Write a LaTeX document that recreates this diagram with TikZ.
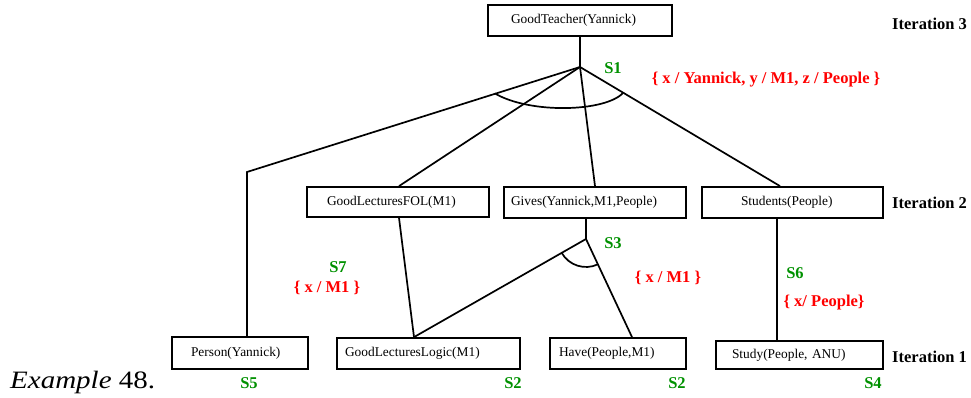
\documentclass[tikz,border=0pt]{standalone}
\usepackage{graphicx}
\usepackage{fontspec}
\setmainfont{Liberation Serif}
\definecolor{sgreen}{RGB}{0,145,0}
\definecolor{sred}{RGB}{255,0,0}
\tikzset{
  pbox/.style={draw, line width=1.8pt, inner ysep=0pt, align=left, anchor=center,
               font=\fontsize{13.4}{15}\selectfont},
  conn/.style={line width=1.7pt},
  slab/.style={text=sgreen, inner sep=0pt, font=\fontsize{16.5}{18}\selectfont\bfseries},
  rlab/.style={text=sred, inner sep=0pt, font=\fontsize{16.5}{18}\selectfont\bfseries},
  itlab/.style={anchor=west, inner sep=0pt, font=\fontsize{16.5}{18}\selectfont\bfseries},
}
\begin{document}
\begin{tikzpicture}[x=1pt,y=1pt]
\useasboundingbox (0,0) rectangle (971,398);
% boxes
\node[pbox, minimum width=184pt, minimum height=31pt, text width=138pt, inner xsep=23pt] (gt) at (580,377.5) {GoodTeacher(Yannick)};
\node[pbox, minimum width=182pt, minimum height=30pt, text width=142pt, inner xsep=20pt] (glf) at (398,196) {GoodLecturesFOL(M1)};
\node[pbox, minimum width=182pt, minimum height=31pt, text width=168pt, inner xsep=7pt] (gives) at (595,195.5) {Gives(Yannick,M1,People)};
\node[pbox, minimum width=181pt, minimum height=31pt, text width=103pt, inner xsep=39pt] (st) at (792.5,195.5) {Students(People)};
\node[pbox, minimum width=136pt, minimum height=32pt, text width=98pt, inner xsep=19pt] (person) at (240,45) {Person(Yannick)};
\node[pbox, minimum width=183pt, minimum height=31pt, text width=167pt, inner xsep=8pt] (gll) at (428.5,44.5) {GoodLecturesLogic(M1)};
\node[pbox, minimum width=136pt, minimum height=31pt, text width=118pt, inner xsep=9pt] (have) at (618,44.5) {Have(People,M1)};
\node[pbox, minimum width=167pt, minimum height=28pt, text width=135pt, inner xsep=16pt] (study) at (799.5,43) {Study(People, ANU)};
% junctions
\coordinate (J1) at (580,331);
\coordinate (C1) at (247,226);
\coordinate (J2) at (586,159);
% connectors
\draw[conn] (gt.south) -- (J1);
\draw[conn] (J1) -- (C1) -- (C1 |- person.north);
\draw[conn] (J1) -- ([xshift=1pt]glf.north);
\draw[conn] (J1) -- (gives.north);
\draw[conn] (J1) -- ([xshift=-12.5pt]st.north);
\draw[conn] ([xshift=1pt]glf.south) -- ([xshift=-14.5pt]gll.north);
\draw[conn] ([xshift=-9pt]gives.south) -- (J2);
\draw[conn] (J2) -- ([xshift=-14.5pt]gll.north);
\draw[conn] (J2) -- ([xshift=14pt]have.north);
\draw[conn] ([xshift=-15.5pt]st.south) -- ([xshift=-22.5pt]study.north);
% and-arcs
\draw[conn] (495,304.5) .. controls (530,284) and (605,286) .. (623,305);
\draw[conn] ([shift={(209.7:28pt)}]J2) arc[start angle=209.7, end angle=295.1, radius=28pt];
% labels
\node[slab] (s1) at (613,330) {S1};
\node[rlab] (r1) at (766,318) {\{ x / Yannick, y / M1, z / People \}};
\node[slab] (s3) at (613,155) {S3};
\node[rlab] (r3) at (668,120) {\{ x / M1 \}};
\node[slab] (s7) at (338,131) {S7};
\node[rlab] (r7) at (327,110) {\{ x / M1 \}};
\node[slab] (s6) at (795,125) {S6};
\node[rlab] (r6) at (824,95) {\{ x/ People\}};
\node[slab] (s5) at (249,15) {S5};
\node[slab] (s2a) at (513,15) {S2};
\node[slab] (s2b) at (677,15) {S2};
\node[slab] (s4) at (873,15) {S4};
\node[itlab] (it3) at (892,374) {Iteration 3};
\node[itlab] (it2) at (892,195) {Iteration 2};
\node[itlab] (it1) at (892,41) {Iteration 1};
\node[anchor=west, inner sep=0pt, font=\fontsize{25}{28}\selectfont] (ex) at (10,16) {\scalebox{1.16}[1]{\textit{Example} 48.}};
\end{tikzpicture}
\end{document}
